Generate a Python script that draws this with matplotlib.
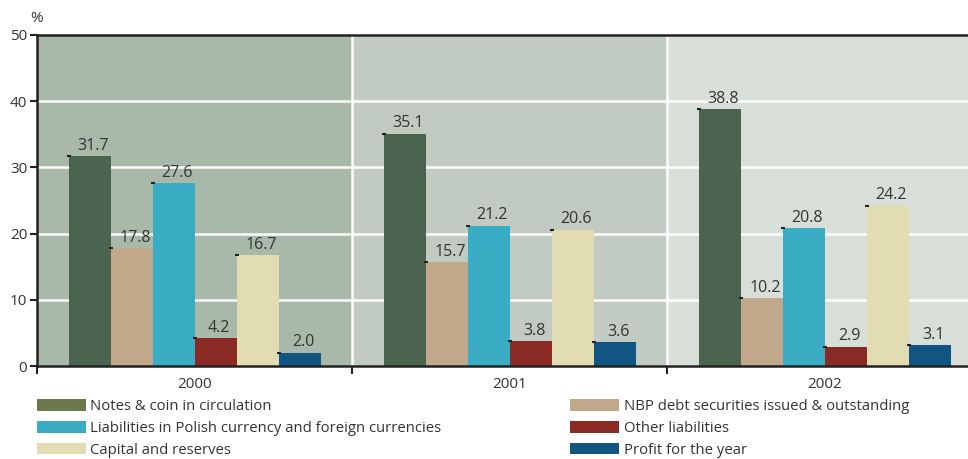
import numpy as np
import matplotlib
matplotlib.use("Agg")
import matplotlib.pyplot as plt
from matplotlib.patches import Patch

years = ["2000", "2001", "2002"]
series = ["Notes & coin in circulation",
          "NBP debt securities issued & outstanding",
          "Liabilities in Polish currency and foreign currencies",
          "Other liabilities",
          "Capital and reserves",
          "Profit for the year"]
values = [[31.7, 35.1, 38.8],
          [17.8, 15.7, 10.2],
          [27.6, 21.2, 20.8],
          [4.2, 3.8, 2.9],
          [16.7, 20.6, 24.2],
          [2.0, 3.6, 3.1]]
bar_colors = ["#4b6450", "#c2a88a", "#3aacc4", "#8b2a25", "#e2dcb2", "#115682"]
legend_colors = ["#6b7a4c", "#c2a88a", "#3aacc4", "#8b2a25", "#e2dcb2", "#115682"]
panel_colors = ["#a9b9a9", "#c2cbc1", "#d8dfd8"]

plt.rcParams["font.family"] = ["Open Sans", "DejaVu Sans"]
text_col = "#333333"

fig = plt.figure(figsize=(9.68, 4.59), dpi=100)
ax = fig.add_axes([37 / 968, 1 - 366 / 459, 931 / 968, 331 / 459])

# shaded panel per year, white separators between them
for i, c in enumerate(panel_colors):
    ax.axvspan(i - 0.5, i + 0.5, color=c, lw=0, zorder=0)
for i in range(1, len(years)):
    ax.axvline(i - 0.5, color="white", lw=1.8, zorder=1)
for y in range(10, 50, 10):
    ax.axhline(y, color="white", lw=1.8, zorder=1)

w = 42 / 315
x = np.arange(len(years))
for k, (vals, col) in enumerate(zip(values, bar_colors)):
    xs = x + (k - 2.5) * w
    ax.bar(xs, vals, width=w, color=col, lw=0, zorder=2)
    # small dark tick at the top-left corner of each bar
    ax.plot(xs - w / 2, vals, marker="_", ms=3, mew=1.5, color="#222222",
            ls="none", zorder=3)
    for xi, v in zip(xs, vals):
        ax.text(xi + 0.012, v + 0.35, f"{v:.1f}", ha="center", va="bottom",
                fontsize=11.5, color=text_col, zorder=4)

ax.set_xlim(-0.5, 2.5 - 14 / 315)
ax.set_ylim(0, 50)
ax.set_yticks(range(0, 51, 10))
ax.set_xticks([-0.5, 0.5, 1.5])
ax.set_xticklabels([])
ax.set_xticks(x, minor=True)
ax.set_xticklabels(years, minor=True)
ax.tick_params(axis="x", which="minor", length=0, pad=8, labelsize=11,
               labelcolor=text_col)
ax.tick_params(axis="x", which="major", length=6, width=1.5, color="#222222")
ax.tick_params(axis="y", length=5, width=1.5, color="#222222", labelsize=11,
               labelcolor=text_col, pad=2)

for side in ["left", "bottom", "top"]:
    ax.spines[side].set_color("#222222")
    ax.spines[side].set_linewidth(1.8)
    ax.spines[side].set_zorder(5)
ax.spines["right"].set_visible(False)

fig.text(30 / 968, 1 - 18 / 459, "%", fontsize=11, color=text_col,
         ha="left", va="center")

handles = [Patch(facecolor=c, edgecolor="none") for c in legend_colors]
leg_kw = dict(frameon=False, fontsize=10.7, handlelength=3.3, handleheight=0.85,
              handletextpad=0.3, labelspacing=0.45, borderpad=0,
              borderaxespad=0, labelcolor=text_col)
leg1 = fig.legend([handles[i] for i in (0, 2, 4)], [series[i] for i in (0, 2, 4)],
                  loc="upper left", bbox_to_anchor=(37 / 968, 1 - 399 / 459), **leg_kw)
leg2 = fig.legend([handles[i] for i in (1, 3, 5)], [series[i] for i in (1, 3, 5)],
                  loc="upper left", bbox_to_anchor=(570 / 968, 1 - 399 / 459), **leg_kw)

fig.savefig("out.png", dpi=100)
